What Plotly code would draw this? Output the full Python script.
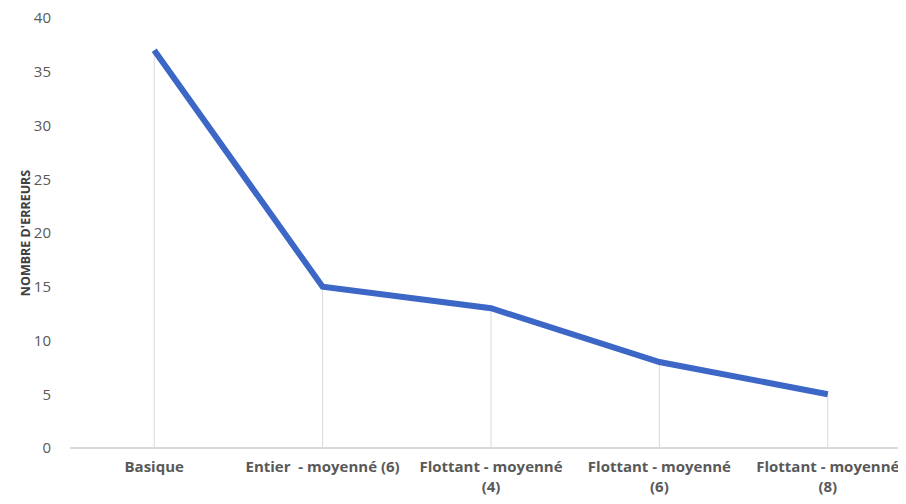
import plotly.graph_objects as go

# donnees
categories = ["Basique", "Entier  - moyenné (6)", "Flottant - moyenné<br>(4)",
              "Flottant - moyenné<br>(6)", "Flottant - moyenné<br>(8)"]
erreurs = [37, 15, 13, 8, 5]
y_ticks = [0, 5, 10, 15, 20, 25, 30, 35, 40]

# lignes de rappel verticales (du point vers l'axe)
drop_x, drop_y = [], []
for c, v in zip(categories, erreurs):
    drop_x += [c, c, None]
    drop_y += [0, v, None]

fig = go.Figure()
fig.add_trace(go.Scatter(x=drop_x, y=drop_y, mode="lines",
                         line=dict(color="#d9d9d9", width=1),
                         hoverinfo="skip", showlegend=False))
fig.add_trace(go.Scatter(x=categories, y=erreurs, mode="lines",
                         line=dict(color="#3c67c6", width=6),
                         name="Erreurs", showlegend=False))

# la page ajoute 8px de marge au body : on compense ici
fig.update_layout(
    width=906, height=504,
    margin=dict(l=62, r=2, t=10, b=64),
    paper_bgcolor="white", plot_bgcolor="white",
    font=dict(family="Open Sans", color="#595959"),
)
fig.update_xaxes(type="category", range=[-0.5, 4.5],
                 showgrid=False, showline=False, zeroline=False,
                 ticks="", ticklabelstandoff=8,
                 tickfont=dict(size=15, family="Open Sans", weight="bold"))
fig.update_yaxes(range=[0, 40], tickvals=y_ticks, showgrid=False,
                 zeroline=True, zerolinecolor="#d9d9d9", zerolinewidth=2,
                 showline=False, ticks="", ticklabelstandoff=18,
                 ticklabeloverflow="allow", automargin=False,
                 tickfont=dict(size=15, color="#595959"),
                 title=dict(text="NOMBRE D'ERREURS", standoff=0,
                            font=dict(size=12.5, weight="bold", color="#404040")))

fig.write_html("out.html")
